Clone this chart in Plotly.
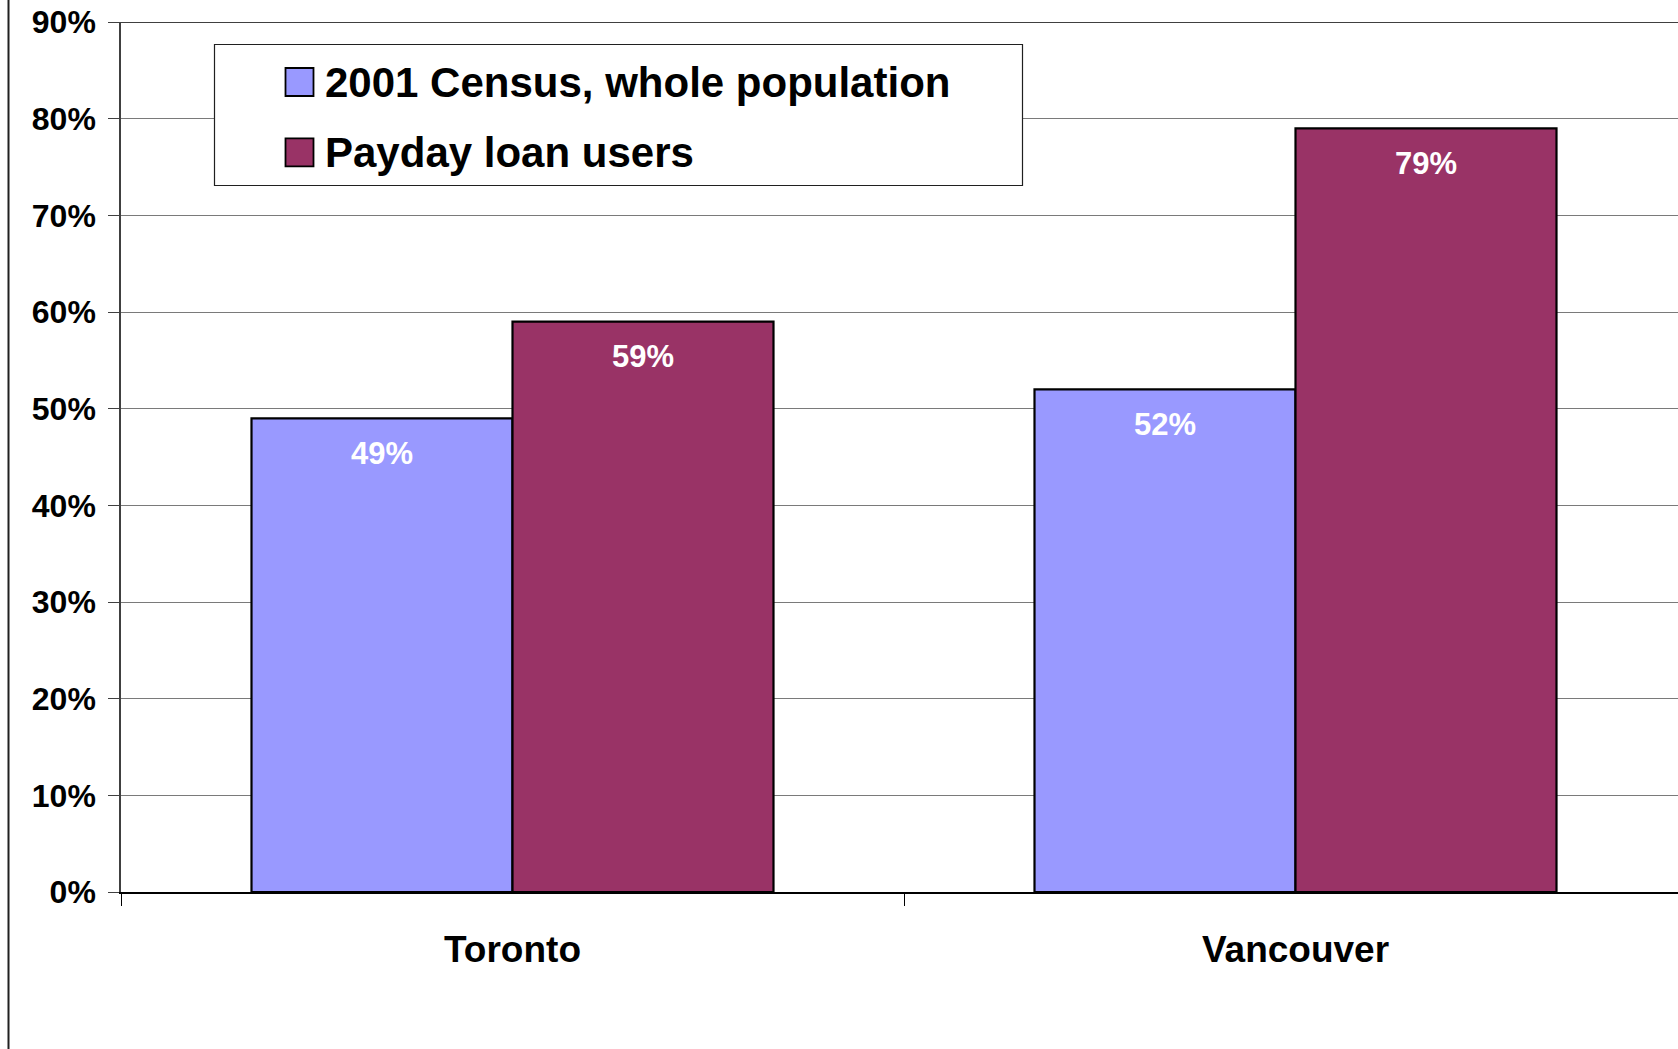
import plotly.graph_objects as go

# ---- data -------------------------------------------------------------
cities = ["Toronto", "Vancouver"]
series_names = ["2001 Census, whole population", "Payday loan users"]
census_pct = [49, 52]
payday_pct = [59, 79]
y_ticks = [0, 10, 20, 30, 40, 50, 60, 70, 80, 90]
y_tick_text = [f"{v}%" for v in y_ticks]

# ---- styling ----------------------------------------------------------
W, H = 1678, 1049
L, R, T, B = 121, 0, 22, 157
FONT = "Arial, Liberation Sans, sans-serif"
COLORS = ["#9999FF", "#993366"]
values = [census_pct, payday_pct]

plot_w = W - L - R
plot_h = H - T - B
cat_px = 783.0                      # pixel width of one category slot
x_range = [-0.5, -0.5 + plot_w / cat_px]


def px_x(px):
    return (px - L) / plot_w


def px_y(py):
    return (H - B - py) / plot_h


fig = go.Figure()
for name, vals, col in zip(series_names, values, COLORS):
    fig.add_trace(go.Bar(
        x=cities, y=vals, name=name,
        marker=dict(color=col, line=dict(color="black", width=2.2)),
        showlegend=False,
    ))

# value labels inside the top of each bar
annotations = []
for k, vals in enumerate(values):
    off = -1 / 6 if k == 0 else 1 / 6
    for i, v in enumerate(vals):
        annotations.append(dict(
            x=i + off, y=v, xref="x", yref="y",
            text=f"{v}%", showarrow=False,
            yanchor="middle", yshift=-35,
            font=dict(family=FONT, size=31, color="white", weight="bold"),
        ))

# legend box drawn as shapes + text
shapes = [
    # outer chart frame (left edge)
    dict(type="line", xref="paper", yref="paper",
         x0=px_x(8.5), x1=px_x(8.5), y0=px_y(0), y1=px_y(H),
         line=dict(color="#202020", width=2)),
    # top border of plot at 90%
    dict(type="line", xref="paper", yref="y",
         x0=0, x1=1, y0=90, y1=90, line=dict(color="black", width=1.5)),
    # legend box
    dict(type="rect", xref="paper", yref="paper",
         x0=px_x(214.5), x1=px_x(1022.5), y0=px_y(44.5), y1=px_y(185.5),
         fillcolor="white", line=dict(color="#202020", width=1.2), layer="above"),
]
row_centers = [82.0, 152.3]
for name, col, cy in zip(series_names, COLORS, row_centers):
    shapes.append(dict(
        type="rect", xref="paper", yref="paper",
        x0=px_x(285.5), x1=px_x(313.5), y0=px_y(cy - 14), y1=px_y(cy + 14),
        fillcolor=col, line=dict(color="black", width=1.8), layer="above"))
    annotations.append(dict(
        x=px_x(323), y=px_y(cy), xref="paper", yref="paper",
        xanchor="left", yanchor="middle", text=name, showarrow=False,
        font=dict(family=FONT, size=42, color="black", weight="bold"),
    ))

fig.update_layout(
    width=W, height=H,
    margin=dict(l=L, r=R, t=T, b=B, pad=0),
    paper_bgcolor="white", plot_bgcolor="white",
    barmode="group", bargap=1 / 3, bargroupgap=0,
    font=dict(family=FONT, color="black"),
    shapes=shapes, annotations=annotations,
    xaxis=dict(
        type="category", range=x_range,
        showline=True, linecolor="black", linewidth=1.5,
        ticks="outside", tickson="boundaries", ticklen=12,
        tickcolor="black", tickwidth=1,
        showgrid=False, zeroline=False,
        tickfont=dict(family=FONT, size=37, color="black", weight="bold"),
        ticklabelstandoff=24,
    ),
    yaxis=dict(
        range=[0, 90], tickmode="array", tickvals=y_ticks, ticktext=y_tick_text,
        showline=True, linecolor="#404040", linewidth=1.5,
        ticks="outside", ticklen=11, tickcolor="#404040", tickwidth=1,
        showgrid=True, gridcolor="#7a7a7a", gridwidth=1,
        zeroline=False,
        tickfont=dict(family=FONT, size=32, color="black", weight="bold"),
        ticklabelstandoff=6,
    ),
)

fig.write_html("out.html")
